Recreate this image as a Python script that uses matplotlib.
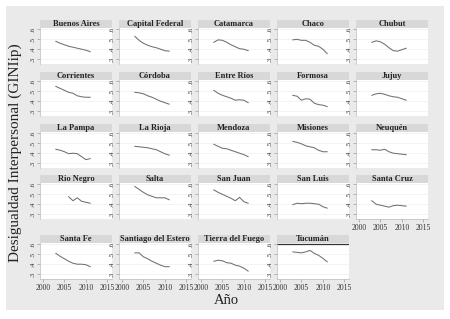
import matplotlib.pyplot as plt
from matplotlib.patches import Rectangle

plt.rcParams["font.family"] = ["Liberation Serif", "DejaVu Serif"]

# Datos: GINI interpersonal por provincia
ANIOS = [2003, 2004, 2005, 2006, 2007, 2008, 2009, 2010, 2011]
ANIOS_RIO_NEGRO = [2006, 2007, 2008, 2009, 2010, 2011]

buenos_aires = [.48, .46, .445, .43, .42, .41, .40, .39, .375]
capital_federal = [.53, .49, .46, .44, .425, .415, .40, .385, .38]
catamarca = [.47, .495, .49, .47, .445, .425, .405, .40, .385]
chaco = [.495, .50, .49, .49, .47, .44, .43, .40, .355]
chubut = [.47, .485, .475, .45, .415, .385, .38, .395, .41]
corrientes = [.55, .53, .51, .49, .48, .455, .445, .44, .44]
cordoba = [.49, .485, .475, .455, .44, .42, .40, .385, .37]
entre_rios = [.51, .48, .46, .445, .43, .41, .415, .41, .385]
formosa = [.46, .45, .41, .425, .42, .38, .365, .36, .345]
jujuy = [.46, .475, .48, .47, .455, .445, .44, .425, .41]
la_pampa = [.44, .43, .415, .395, .40, .395, .365, .335, .345]
la_rioja = [.47, .465, .46, .455, .445, .435, .415, .395, .38]
mendoza = [.49, .47, .45, .445, .43, .415, .40, .385, .365]
misiones = [.52, .51, .495, .475, .465, .455, .43, .415, .415]
neuquen = [.435, .435, .43, .44, .415, .40, .395, .39, .385]
rio_negro = [.475, .435, .465, .43, .42, .41]
salta = [.58, .55, .52, .495, .48, .465, .465, .465, .445]
san_juan = [.545, .52, .50, .48, .46, .435, .47, .425, .41]
san_luis = [.395, .41, .405, .41, .41, .405, .40, .375, .36]
santa_cruz = [.435, .40, .39, .38, .37, .385, .39, .385, .38]
santa_fe = [.51, .48, .455, .43, .41, .40, .40, .395, .375]
santiago = [.515, .515, .475, .455, .43, .41, .39, .375, .375]
tierra_fuego = [.43, .44, .435, .415, .41, .39, .38, .36, .33]
tucuman = [.525, .52, .515, .525, .54, .51, .49, .46, .425]

PROVINCIAS = ["Buenos Aires", "Capital Federal", "Catamarca", "Chaco", "Chubut",
              "Corrientes", "Córdoba", "Entre Ríos", "Formosa", "Jujuy",
              "La Pampa", "La Rioja", "Mendoza", "Misiones", "Neuquén",
              "Rio Negro", "Salta", "San Juan", "San Luis", "Santa Cruz",
              "Santa Fe", "Santiago del Estero", "Tierra del Fuego", "Tucumán"]
SERIES = [buenos_aires, capital_federal, catamarca, chaco, chubut,
          corrientes, cordoba, entre_rios, formosa, jujuy,
          la_pampa, la_rioja, mendoza, misiones, neuquen,
          rio_negro, salta, san_juan, san_luis, santa_cruz,
          santa_fe, santiago, tierra_fuego, tucuman]

Y_TICKS = [.3, .4, .5, .6]
Y_LABELS = [".3", ".4", ".5", ".6"]
X_TICKS = [2000, 2005, 2010, 2015]

# Layout in Pixeln
W, H = 450, 319
fig = plt.figure(figsize=(W / 100, H / 100), dpi=100)
fig.patch.set_facecolor("white")
fig.patches.append(Rectangle((6 / W, 1 - 310 / H), 438 / W, 304 / H,
                             transform=fig.transFigure, facecolor="#EAEAEA",
                             edgecolor="none", zorder=-10))

COL_LEFT = [40, 119, 198, 277, 356]
ROW_STRIP = [20, 72, 124, 175, 235]
PW, PH, SH = 72, 36, 8
GRIS_LINEA = "#707070"

for i, (nombre, valores) in enumerate(zip(PROVINCIAS, SERIES)):
    r, c = divmod(i, 5)
    top = ROW_STRIP[r] + SH
    ax = fig.add_axes([COL_LEFT[c] / W, 1 - (top + PH) / H, PW / W, PH / H])
    ax.set_facecolor("white")
    anios = ANIOS_RIO_NEGRO if nombre == "Rio Negro" else ANIOS
    ax.plot(anios, valores, color=GRIS_LINEA, lw=0.75)
    if nombre == "Tucumán":
        ax.axhline(.6, color="#333333", lw=0.9)
    ax.set_xlim(1999.3, 2016.1)
    ax.set_ylim(.25, .615)
    ax.set_yticks(Y_TICKS)
    ax.set_yticklabels(Y_LABELS, rotation=90, va="center", fontsize=5,
                       color="#333333")
    ax.grid(axis="y", color="#EEEEEE", lw=0.5)
    ax.set_axisbelow(True)
    for s in ("top", "right", "bottom"):
        ax.spines[s].set_visible(False)
    ax.spines["left"].set_color("#BBBBBB")
    ax.spines["left"].set_linewidth(0.5)
    ax.tick_params(axis="y", length=2, width=0.4, color="#888888", pad=1.5)
    ax.set_xticks(X_TICKS)
    if r == 4 or i == 19:
        ax.tick_params(axis="x", length=2, width=0.4, color="#888888",
                       labelsize=5.5, labelcolor="#333333", pad=1.5)
        ax.spines["bottom"].set_visible(True)
        ax.spines["bottom"].set_color("#BBBBBB")
        ax.spines["bottom"].set_linewidth(0.5)
    else:
        ax.tick_params(axis="x", length=0, labelbottom=False)
    # Titelstreifen
    ax.add_patch(Rectangle((0, 1), 1, SH / PH, transform=ax.transAxes,
                           facecolor="#D8D8D8", edgecolor="none",
                           clip_on=False))
    ax.text(0.5, 1 + SH / PH / 2, nombre, transform=ax.transAxes,
            ha="center", va="center", fontsize=6, fontweight="bold",
            color="#222222")

fig.text(226 / W, 1 - 301 / H, "Año", ha="center", va="center", fontsize=10.5,
         color="#222222")
fig.text(15 / W, 1 - 153 / H, "Desigualdad Interpersonal (GINIip)",
         rotation=90, ha="center", va="center", fontsize=11, color="#222222")

fig.savefig("out.png", dpi=100, facecolor="white")
